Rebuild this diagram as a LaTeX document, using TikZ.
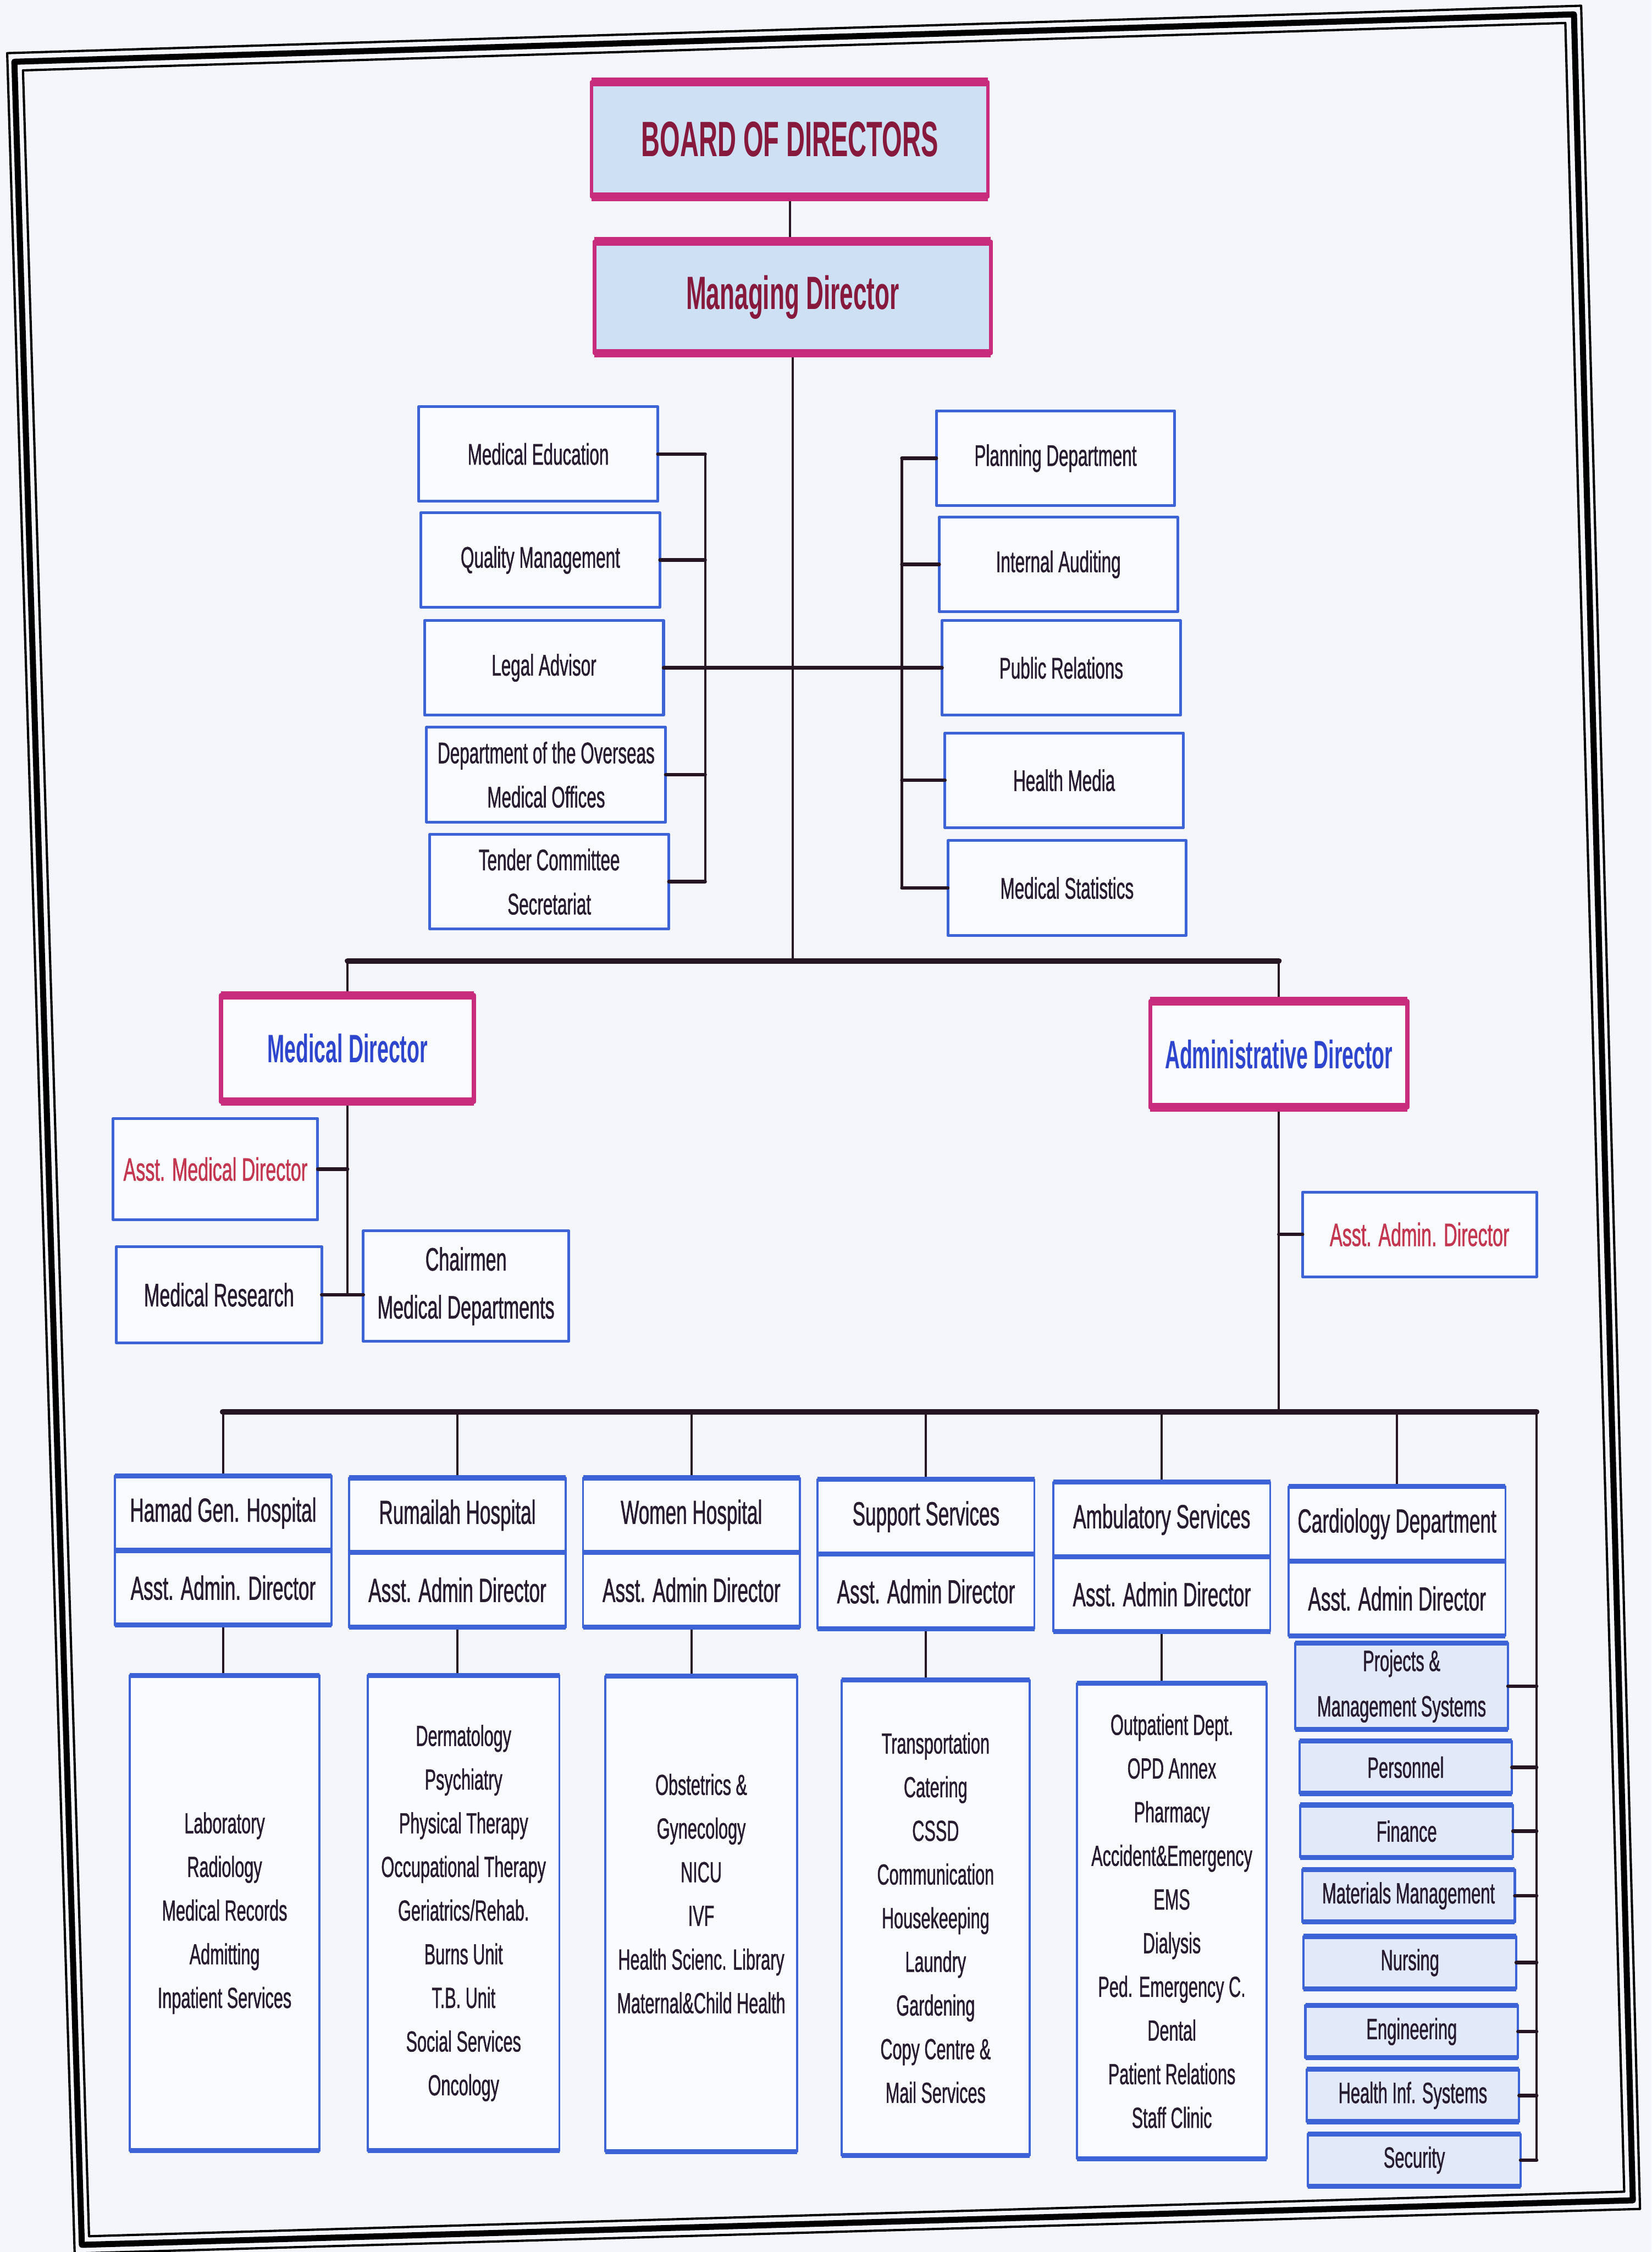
\documentclass[tikz,border=0pt]{standalone}
\usepackage{fontspec}
\setmainfont{Liberation Sans}[FakeStretch=0.58,FakeBold=1]
\newfontfamily\titlefont{Liberation Sans}[FakeStretch=0.52]
\usetikzlibrary{positioning}

\definecolor{pagebg}{RGB}{245,246,251}
\definecolor{magentab}{RGB}{200,45,125}
\definecolor{blueb}{RGB}{60,100,215}
\definecolor{paleblue}{RGB}{205,224,244}
\definecolor{stackfill}{RGB}{226,233,248}
\definecolor{boxfill}{RGB}{250,251,255}
\definecolor{maroon}{RGB}{135,25,60}
\definecolor{dirblue}{RGB}{45,70,205}
\definecolor{asstred}{RGB}{195,55,80}
\definecolor{ink}{RGB}{40,28,48}
\definecolor{wirec}{RGB}{38,22,36}

\begin{document}
\begin{tikzpicture}[line cap=round,line join=round,x=0.2mm,y=-0.2mm,
  orgbox/.style={inner sep=0pt,outer sep=0pt,align=center},
  topbox/.style={orgbox,draw=magentab,line width=1.4pt,fill=paleblue,text=maroon,
    font=\titlefont\bfseries\fontsize{19.7}{22}\selectfont,minimum width=55.2mm},
  dirbox/.style={orgbox,draw=magentab,line width=1.7pt,fill=boxfill,text=dirblue,
    font=\titlefont\bfseries\fontsize{15.7}{18}\selectfont,minimum height=14.8mm},
  staffbox/.style={orgbox,draw=blueb,line width=1.1pt,fill=boxfill,text=ink,
    font=\fontsize{11.8}{17.5}\selectfont,minimum width=33.3mm,minimum height=13.2mm},
  subbox/.style={orgbox,draw=blueb,line width=1.1pt,fill=boxfill,text=ink,
    font=\fontsize{12.8}{19}\selectfont,minimum width=28.6mm},
  hospbox/.style={orgbox,draw=blueb,line width=0.8pt,fill=boxfill,text=ink,
    font=\fontsize{13.2}{15}\selectfont,minimum width=30.2mm,minimum height=10.4mm},
  listbox/.style={orgbox,draw=blueb,line width=0.8pt,fill=boxfill,text=ink,
    font=\fontsize{11.5}{17.3}\selectfont,minimum height=66.2mm},
  stackbox/.style={orgbox,draw=blueb,line width=0.9pt,fill=stackfill,text=ink,
    font=\fontsize{11.6}{18}\selectfont,minimum width=29.6mm,minimum height=7.3mm},
  magbar/.style={magentab,line width=3.4pt,line cap=butt},
  bluebar/.style={blueb,line width=2pt,line cap=butt},
  wire/.style={wirec,line width=1.4pt},
  thinwire/.style={wirec,line width=0.9pt},
  thickwire/.style={wirec,line width=2.2pt}]
\useasboundingbox (0,0) rectangle (1150,1568);
\fill[pagebg] (0,0) rectangle (1150,1568);

%rahmen
\draw[line width=0.9pt] (5,37) -- (1101,4) -- (1142,1538) -- (52,1569) -- cycle;
\draw[line width=2.4pt] (10,43) -- (1096,10) -- (1137,1532) -- (57,1563) -- cycle;
\draw[line width=0.9pt] (16,49) -- (1090,16) -- (1131,1526) -- (62,1557) -- cycle;

%ylin johto
\node[topbox,minimum height=16mm] (board) at (550,97) {BOARD OF DIRECTORS};
\node[topbox,minimum height=15.6mm,font=\titlefont\bfseries\fontsize{18.5}{22}\selectfont] (mngdir) at (552,207) {Managing Director};

%esikunta vasen
\node[staffbox] (meded) at (374.8,316.1) {Medical Education};
\node[staffbox] (qualm) at (376.3,389.9) {Quality Management};
\node[staffbox] (legal) at (378.8,465) {Legal Advisor};
\node[staffbox] (overs) at (380.3,539.4) {Department of the Overseas\\Medical Offices};
\node[staffbox] (tender) at (382.5,613.9) {Tender Committee\\Secretariat};
%esikunta oikea
\node[staffbox,minimum width=33.2mm] (plan) at (735,319) {Planning Department};
\node[staffbox,minimum width=33.2mm] (audit) at (737,393) {Internal Auditing};
\node[staffbox,minimum width=33.2mm] (pubrel) at (739,465) {Public Relations};
\node[staffbox,minimum width=33.2mm] (media) at (741,543.3) {Health Media};
\node[staffbox,minimum width=33.2mm] (stats) at (743,618.3) {Medical Statistics};

%johtajat
\node[dirbox,minimum width=35.2mm] (meddir) at (242,730) {Medical Director};
\node[dirbox,minimum width=35.8mm] (admdir) at (890.5,734) {Administrative Director};
\node[subbox,minimum width=28.5mm,minimum height=14.1mm,text=asstred] (asstmed) at (150,814) {Asst. Medical Director};
\node[subbox,minimum height=13.4mm] (medres) at (152.5,901.5) {Medical Research};
\node[subbox,minimum height=15.4mm] (chair) at (324.5,895.5) {Chairmen\\Medical Departments};
\node[subbox,minimum width=32.6mm,minimum height=11.8mm,text=asstred] (asstadm) at (988.5,859.5) {Asst. Admin. Director};

%sairaalat
\foreach \n/\x/\y/\t/\a in {hgh/155.4/1053.5/Hamad Gen. Hospital/Asst. Admin. Director,
  rum/318.5/1055/Rumailah Hospital/Asst. Admin Director,
  wom/481.5/1055/Women Hospital/Asst. Admin Director,
  sup/644.8/1056/Support Services/Asst. Admin Director,
  amb/809/1058/Ambulatory Services/Asst. Admin Director,
  card/972.8/1061/Cardiology Department/Asst. Admin Director}
{
\node[hospbox] (\n) at (\x,\y) {\t};
\node[hospbox,below=0pt of \n] (aad\n) {\a};
}

%yksikot
\node[listbox,minimum width=26.4mm] (listhgh) at (156.4,1332) {Laboratory\\Radiology\\Medical Records\\Admitting\\Inpatient Services};
\node[listbox,minimum width=26.7mm] (listrum) at (322.8,1332) {Dermatology\\Psychiatry\\Physical Therapy\\Occupational Therapy\\Geriatrics/Rehab.\\Burns Unit\\T.B. Unit\\Social Services\\Oncology};
\node[listbox,minimum width=26.7mm] (listwom) at (488.3,1332.5) {};
\node[orgbox,text=ink,font=\fontsize{11.5}{17.3}\selectfont] (womtext) at ([yshift=2.8mm]listwom.center) {Obstetrics \&\\Gynecology\\NICU\\IVF\\Health Scienc. Library\\Maternal\&Child Health};
\node[listbox,minimum width=26.2mm] (listsup) at (651.5,1335.3) {Transportation\\Catering\\CSSD\\Communication\\Housekeeping\\Laundry\\Gardening\\Copy Centre \&\\Mail Services};
\node[listbox,minimum width=26.4mm] (listamb) at (816,1337.5) {Outpatient Dept.\\OPD Annex\\Pharmacy\\Accident\&Emergency\\EMS\\Dialysis\\Ped. Emergency C.\\Dental\\Patient Relations\\Staff Clinic};

%hallinto
\node[stackbox,minimum height=12mm] (projm) at (976,1174) {Projects \&\\Management Systems};
\node[stackbox] (pers) at (978.8,1230.5) {Personnel};
\node[stackbox] (fin) at (979.5,1275) {Finance};
\node[stackbox] (matm) at (980.8,1320) {Materials Management};
\node[stackbox] (nurs) at (981.8,1366.5) {Nursing};
\node[stackbox] (engr) at (983,1414.5) {Engineering};
\node[stackbox] (hinf) at (983.8,1459) {Health Inf. Systems};
\node[stackbox] (secur) at (984.8,1504) {Security};

%viivat
\draw[thinwire] (board.south) -- (board.south |- mngdir.north);
\coordinate (fork) at (552,669);
\coordinate (lbus) at (491,465);
\coordinate (rbus) at (628,465);
\draw[thinwire] (mngdir.south) -- (fork);
\foreach \n in {meded,qualm,legal,overs,tender}
  \draw[wire] (\n.east) -- (\n.east -| lbus);
\draw[thinwire] (meded.east -| lbus) -- (tender.east -| lbus);
\draw[wire] (lbus) -- (rbus);
\foreach \n in {plan,audit,pubrel,media,stats}
  \draw[wire] (\n.west) -- (\n.west -| rbus);
\draw[thinwire] (plan.west -| rbus) -- (stats.west -| rbus);

\draw[thickwire] (meddir.north |- fork) -- (admdir.north |- fork);
\draw[thinwire] (meddir.north |- fork) -- (meddir.north);
\draw[thinwire] (admdir.north |- fork) -- (admdir.north);

\draw[thinwire] (meddir.south) -- (meddir.south |- medres.east);
\draw[wire] (asstmed.east) -- (asstmed.east -| meddir.south);
\draw[wire] (medres.east) -- (chair.west |- medres.east);

\coordinate (hbl) at (155,983);
\coordinate (hbr) at (1070,983);
\draw[thinwire] (admdir.south) -- (admdir.south |- hbl);
\draw[wire] (asstadm.west) -- (asstadm.west -| admdir.south);
\draw[thickwire] (hbl) -- (hbr);
\draw[thinwire] (hbr) -- (hbr |- secur.east);
\foreach \n in {hgh,rum,wom,sup,amb,card}
  \draw[thinwire] (\n.north) -- (\n.north |- hbl);
\foreach \n in {hgh,rum,wom,sup,amb}
  \draw[thinwire] (aad\n.south) -- (aad\n.south |- list\n.north);
\foreach \n in {projm,pers,fin,matm,nurs,engr,hinf,secur}
  \draw[wire] (\n.east) -- (\n.east -| hbr);

%paksut reunat
\foreach \n in {board,mngdir,meddir,admdir}
  \draw[magbar] (\n.north west) -- (\n.north east) (\n.south west) -- (\n.south east);
\foreach \n in {hgh,rum,wom,sup,amb,card}
  \draw[bluebar] (\n.north west) -- (\n.north east) (\n.south west) -- (\n.south east)
    (aad\n.south west) -- (aad\n.south east);
\foreach \n in {listhgh,listrum,listwom,listsup,listamb,projm,pers,fin,matm,nurs,engr,hinf,secur}
  \draw[bluebar] (\n.north west) -- (\n.north east) (\n.south west) -- (\n.south east);
\end{tikzpicture}
\end{document}
